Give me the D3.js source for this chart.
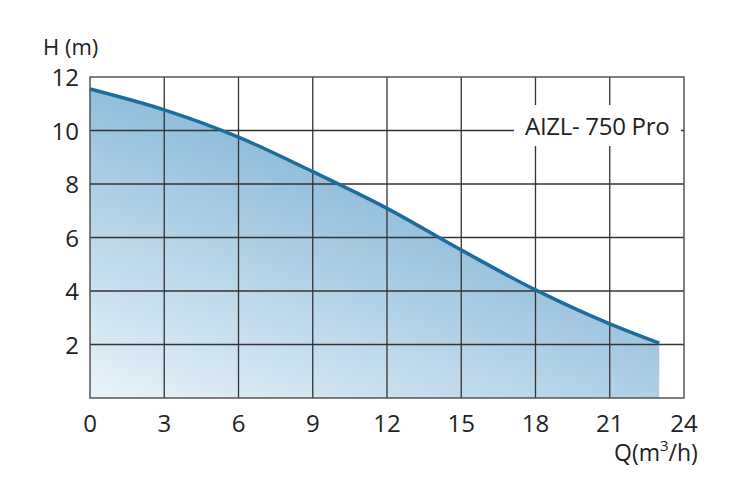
<!DOCTYPE html>
<html><head><meta charset="utf-8">
<script src="https://cdn.jsdelivr.net/npm/d3@7"></script>
<style>
html,body{margin:0;padding:0;background:#fff;}
svg text{font-family:"Open Sans","Noto Sans",sans-serif;fill:#222;}
</style></head>
<body><svg id="c" width="738" height="500"></svg>
<script>
const flow = [0, 3, 6, 9, 12, 15, 18, 21, 23];
const head = [11.55, 10.77, 9.75, 8.46, 7.09, 5.53, 4.04, 2.77, 2.05];
const xTicks = [0, 3, 6, 9, 12, 15, 18, 21, 24];
const yTicks = [2, 4, 6, 8, 10, 12];
const modelName = "AIZL- 750 Pro";

const svg = d3.select("#c");
const x = d3.scaleLinear().domain([0, 24]).range([90, 684]);
const y = d3.scaleLinear().domain([0, 12]).range([398, 77]);
const pts = flow.map((q, i) => ({q, h: head[i]}));

const defs = svg.append("defs");
const g = defs.append("linearGradient").attr("id", "fillg")
  .attr("gradientUnits", "userSpaceOnUse")
  .attr("x1", 90).attr("y1", 398).attr("x2", 200).attr("y2", 100);
g.append("stop").attr("offset", "0").attr("stop-color", "#e9f3f9");
g.append("stop").attr("offset", "1").attr("stop-color", "#8bbad8");

const curve = d3.curveMonotoneX;
svg.append("path").datum(pts)
  .attr("d", d3.area().x(d => x(d.q)).y0(y(0)).y1(d => y(d.h)).curve(curve))
  .attr("fill", "url(#fillg)");

// grid
svg.append("g").selectAll("line").data(xTicks.filter(t => t > 0 && t < 24)).join("line")
  .attr("x1", d => x(d)).attr("x2", d => x(d)).attr("y1", y(12)).attr("y2", y(0))
  .attr("stroke", "#333").attr("stroke-width", 1.3);
svg.append("g").selectAll("line").data(yTicks.filter(t => t < 12)).join("line")
  .attr("y1", d => y(d)).attr("y2", d => y(d)).attr("x1", x(0)).attr("x2", x(24))
  .attr("stroke", "#333").attr("stroke-width", 1.3);

svg.append("path").datum(pts)
  .attr("d", d3.line().x(d => x(d.q)).y(d => y(d.h)).curve(curve))
  .attr("fill", "none").attr("stroke", "#1d6c9e").attr("stroke-width", 3.5)
  .attr("stroke-linecap", "butt");

// model label box
svg.append("rect").attr("x", 514).attr("y", 105).attr("width", 167).attr("height", 41).attr("fill", "#fff");
svg.append("text").attr("x", 525).attr("y", 135).attr("font-size", 24).attr("letter-spacing", -0.3).text(modelName);

// frame
svg.append("rect").attr("x", x(0)).attr("y", y(12)).attr("width", x(24) - x(0)).attr("height", y(0) - y(12))
  .attr("fill", "none").attr("stroke", "#555").attr("stroke-width", 1.5);

// axes labels
svg.append("g").selectAll("text").data(xTicks).join("text")
  .attr("x", d => x(d)).attr("y", 432).attr("text-anchor", "middle").attr("font-size", 24)
  .text(d => d);
svg.append("g").selectAll("text").data(yTicks).join("text")
  .attr("x", 79).attr("y", d => y(d) + 9).attr("text-anchor", "end").attr("font-size", 24)
  .text(d => d);

svg.append("text").attr("x", 43).attr("y", 55).attr("font-size", 22).text("H (m)");
const qt = svg.append("text").attr("x", 614).attr("y", 461).attr("font-size", 23);
qt.append("tspan").text("Q(m");
qt.append("tspan").attr("dy", -10).attr("font-size", 15).text("3");
qt.append("tspan").attr("dy", 10).text("/h)");
</script></body></html>
